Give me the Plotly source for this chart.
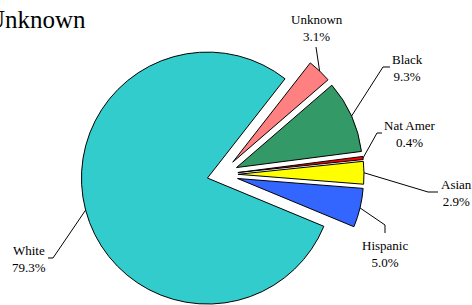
import math
import plotly.graph_objects as go

# ---- data ----
categories = ["Unknown", "Black", "Nat Amer", "Asian", "Hispanic", "White"]
percentages = [3.1, 9.3, 0.4, 2.9, 5.0, 79.3]
slice_colors = ["#FF8080", "#339966", "#FF0000", "#FFFF00", "#3366FF", "#33CCCC"]
chart_title = "Unknown"

# ---- layout / style constants (pixels) ----
W, H = 472, 305
RADIUS = 126
CENTER = (221.0, 174.5)
START_ANGLE = 38            # first slice starts 38 deg clockwise from 12 o'clock
EXPLODE = [17, 17, 17, 17, 17, 14]   # explosion distance of each slice, px
FONT = "Liberation Serif, Times New Roman, serif"

# label block centres and leader-line elbow points (px)
LABEL_POS = [(317, 28), (407, 68), (410, 134), (456, 193), (385, 254), (29, 259)]
LEADER_PTS = [
    [(316, 47)],
    [(383, 67), (390, 67)],
    [(377, 133), (382, 133)],
    [(428, 192), (438, 192)],
    [(385, 225), (385, 233)],
    [(53, 258), (48, 258)],
]

total = sum(percentages)
mid_angles = []
acc = START_ANGLE
for v in percentages:
    span = v / total * 360.0
    mid_angles.append(acc + span / 2.0)
    acc += span


def direction(compass_deg):
    a = math.radians(compass_deg)
    return math.sin(a), -math.cos(a)


def px(x, y):
    return x / W, 1 - y / H


fig = go.Figure()
n = len(categories)
anchors = []
for i in range(n):
    dx, dy = direction(mid_angles[i])
    cx = CENTER[0] + EXPLODE[i] * dx
    cy = CENTER[1] + EXPLODE[i] * dy
    anchors.append((cx + RADIUS * dx, cy + RADIUS * dy))
    x0 = max(0.0, (cx - RADIUS) / W)
    x1 = min(1.0, (cx + RADIUS) / W)
    y0 = max(0.0, 1 - (cy + RADIUS) / H)
    y1 = min(1.0, 1 - (cy - RADIUS) / H)
    colors = [c if j == i else "rgba(0,0,0,0)" for j, c in enumerate(slice_colors)]
    widths = [1 if j == i else 0 for j in range(n)]
    fig.add_trace(go.Pie(
        labels=categories, values=percentages, sort=False,
        direction="clockwise", rotation=START_ANGLE,
        marker=dict(colors=colors, line=dict(color="black", width=widths)),
        textinfo="none", hoverinfo="label+percent",
        domain=dict(x=[x0, x1], y=[y0, y1]), showlegend=False,
    ))

annotations = []
shapes = []
for i in range(n):
    lx, ly = px(*LABEL_POS[i])
    annotations.append(dict(
        x=lx, y=ly, xref="paper", yref="paper", xanchor="center", yanchor="middle",
        text=f"{categories[i]}<br>{percentages[i]:.1f}%", showarrow=False,
        font=dict(family=FONT, size=13, color="black"), align="center",
    ))
    pts = [anchors[i]] + LEADER_PTS[i]
    path = "M " + " L ".join(f"{px(x, y)[0]:.5f},{px(x, y)[1]:.5f}" for x, y in pts)
    shapes.append(dict(type="path", path=path, xref="paper", yref="paper",
                       line=dict(color="black", width=1)))

tx, ty = px(-15, 20)
annotations.append(dict(
    x=tx, y=ty, xref="paper", yref="paper", xanchor="left", yanchor="middle",
    text=chart_title, showarrow=False, font=dict(family=FONT, size=25, color="black"),
))

fig.update_layout(
    width=W, height=H, margin=dict(l=0, r=0, t=0, b=0),
    paper_bgcolor="white", plot_bgcolor="white",
    annotations=annotations, shapes=shapes, showlegend=False,
)

fig.write_html(
    "out.html",
    config={"displayModeBar": False},
    post_script="document.body.style.margin='0px';document.body.style.overflow='hidden';",
)
